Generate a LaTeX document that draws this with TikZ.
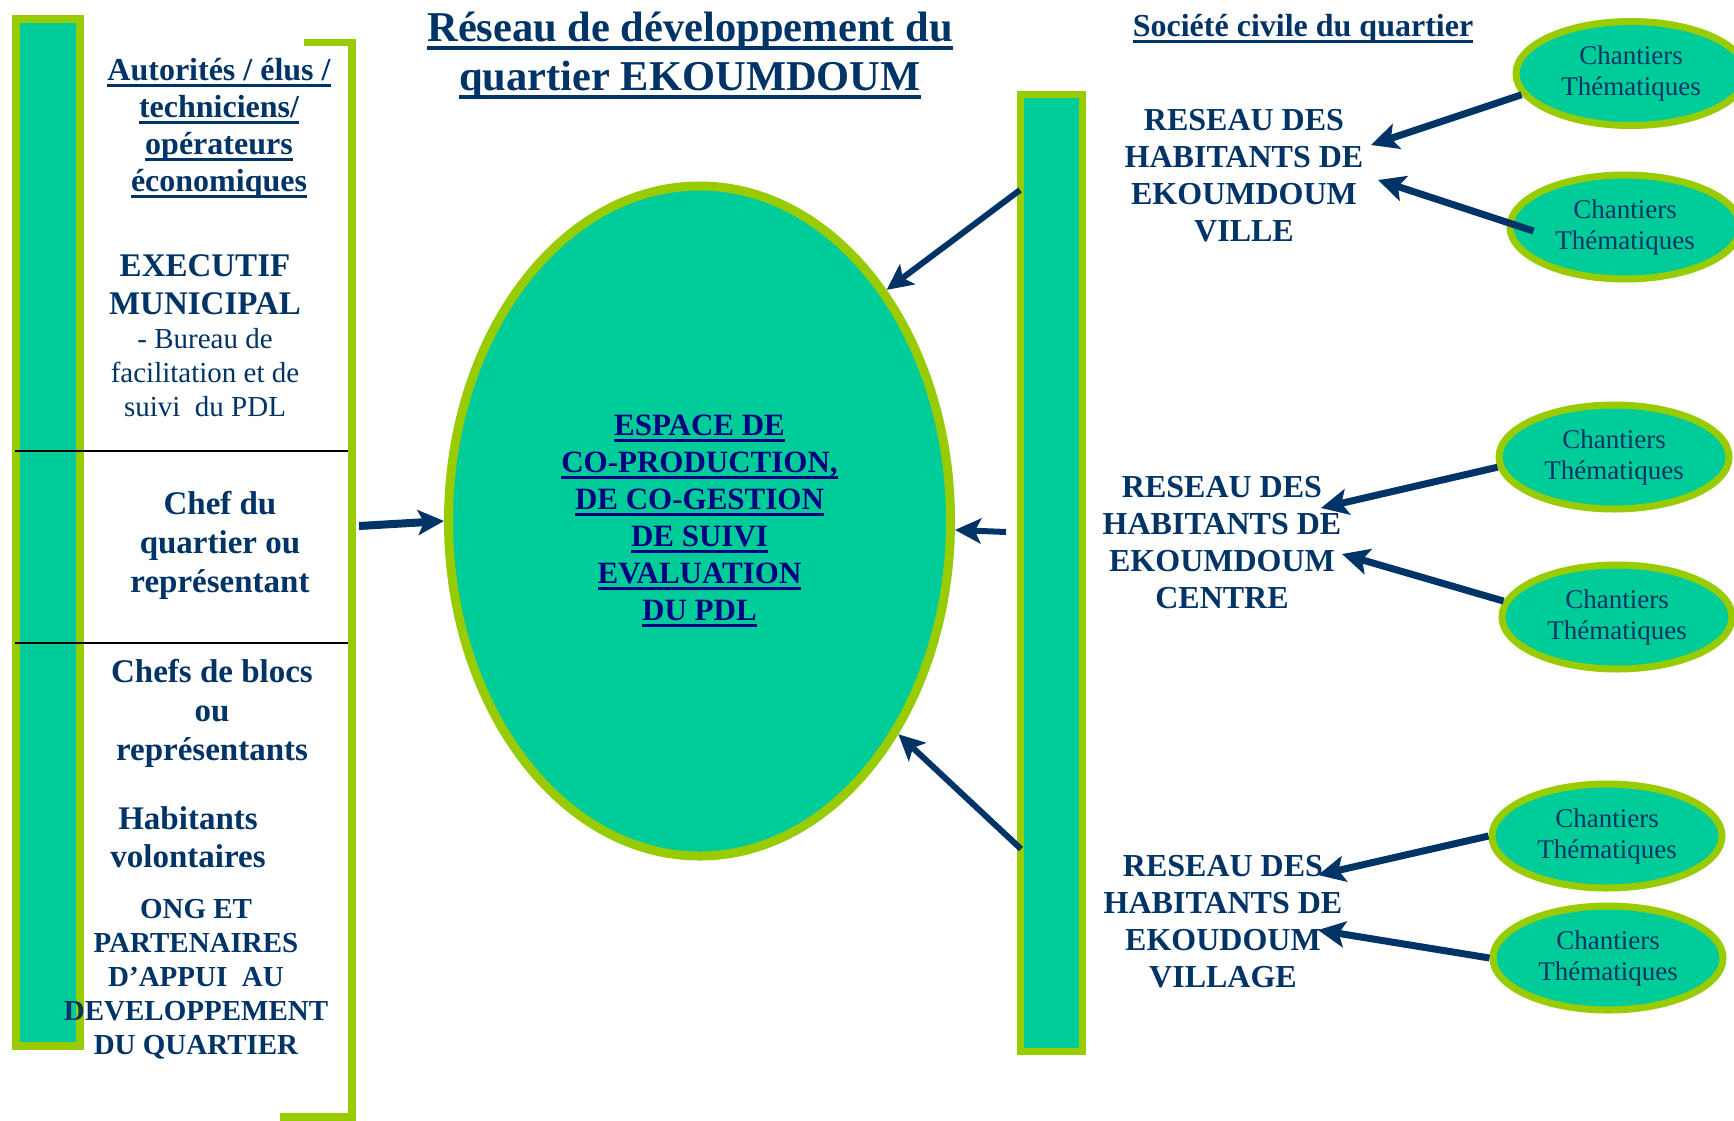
\documentclass[tikz,border=0pt]{standalone}
\usepackage{fontspec}
\setmainfont{Liberation Serif}
\usetikzlibrary{arrows.meta,shapes.geometric}
\definecolor{mynavy}{RGB}{0,51,102}
\definecolor{mydeep}{RGB}{0,0,128}
\definecolor{myteal}{RGB}{0,204,153}
\definecolor{mygreen}{RGB}{153,204,0}
\newcommand\ulx[1]{\leavevmode\setbox0\hbox{#1}\rlap{\copy0}\rule[-0.2em]{\wd0}{0.09em}}
\tikzset{
  lbl/.style={text=mynavy, align=center, inner sep=0pt},
  bar/.style={draw=mygreen, fill=myteal, line width=4pt},
  arr/.style={draw=mynavy, line width=3pt, -{Stealth[length=13pt,width=12.5pt,inset=3pt]}},
  carr/.style={draw=mynavy, line width=3.5pt, -{Stealth[length=13.5pt,width=13pt,inset=3pt]}},
  chant/.style={ellipse, draw=mygreen, fill=myteal, line width=3.5pt, minimum width=115pt,
    minimum height=52pt, inner sep=0pt, text=mynavy, align=center,
    font=\fontsize{13.5pt}{15.5pt}\selectfont},
}
\begin{document}
\begin{tikzpicture}[x=0.5pt,y=-0.5pt]
\clip (0,0) rectangle (1734,1120);
\fill[white] (0,0) rectangle (1734,1120);
% left bar and bracket
\draw[bar] (16,19) rectangle (80,1046);
\draw[mygreen, line width=3.75pt] (304,42.5) -- (352,42.5) -- (352,1117) -- (280,1117);
\draw[black, line width=1pt] (15,450.5) -- (348,450.5);
\draw[black, line width=1pt] (15,642.5) -- (348,642.5);
% right bar
\draw[bar, line width=3.5pt] (1020,94.5) rectangle (1082,1051.5);
% central ellipse
\node[ellipse, draw=mygreen, fill=myteal, line width=4.5pt, minimum width=251pt, minimum height=335pt,
  inner sep=0pt, text=mydeep, align=center, font=\bfseries\fontsize{15.5pt}{18.5pt}\selectfont]
  (E) at (699.5,521) {\ulx{ESPACE DE}\\\ulx{CO-PRODUCTION,}\\\ulx{DE CO-GESTION}\\\ulx{DE SUIVI}\\\ulx{EVALUATION}\\\ulx{DU PDL}};
% chantiers
\node[chant] (C1) at (1631,73.5) {Chantiers\\Thématiques};
\node[chant] (C2) at (1625,227) {Chantiers\\Thématiques};
\node[chant] (C3) at (1614,457) {Chantiers\\Thématiques};
\node[chant] (C4) at (1617,617) {Chantiers\\Thématiques};
\node[chant] (C5) at (1607,836) {Chantiers\\Thématiques};
\node[chant] (C6) at (1608,958) {Chantiers\\Thématiques};
% titles
\node[lbl, font=\bfseries\fontsize{21.25pt}{24.5pt}\selectfont] (title) at (690,56)
  {\ulx{Réseau de développement du}\\\ulx{quartier EKOUMDOUM}};
\node[lbl, font=\bfseries\fontsize{16pt}{18.5pt}\selectfont] (soc) at (1303,29)
  {\ulx{Société civile du quartier}};
% left texts
\node[lbl, font=\bfseries\fontsize{16pt}{18.5pt}\selectfont] (autor) at (219,128)
  {\ulx{Autorités / élus /}\\\ulx{techniciens/}\\\ulx{opérateurs}\\\ulx{économiques}};
\node[lbl, font=\bfseries\fontsize{16.5pt}{19pt}\selectfont] (exec) at (205,285) {EXECUTIF\\MUNICIPAL};
\node[lbl, font=\fontsize{14.5pt}{17pt}\selectfont] (bureau) at (205,373) {- Bureau de\\facilitation et de\\suivi\ \ du PDL};
\node[lbl, font=\bfseries\fontsize{16.5pt}{19.5pt}\selectfont] (chef) at (220,545) {Chef du\\quartier ou\\représentant};
\node[lbl, font=\bfseries\fontsize{16.5pt}{19.5pt}\selectfont] (blocs) at (212,713) {Chefs de blocs\\ou\\représentants};
\node[lbl, font=\bfseries\fontsize{16.5pt}{19pt}\selectfont] (habit) at (188,837) {Habitants\\volontaires};
\node[lbl, font=\bfseries\fontsize{14.5pt}{17pt}\selectfont] (ong) at (196,979)
  {ONG ET\\PARTENAIRES\\D’APPUI\ \ AU\\DEVELOPPEMENT\\DU QUARTIER};
% network texts
\node[lbl, font=\bfseries\fontsize{16pt}{18.5pt}\selectfont] (ville) at (1244,176) {RESEAU DES\\HABITANTS DE\\EKOUMDOUM\\VILLE};
\node[lbl, font=\bfseries\fontsize{16pt}{18.5pt}\selectfont] (centre) at (1222,543) {RESEAU DES\\HABITANTS DE\\EKOUMDOUM\\CENTRE};
\node[lbl, font=\bfseries\fontsize{16pt}{18.5pt}\selectfont] (village) at (1223,922) {RESEAU DES\\HABITANTS DE\\EKOUDOUM\\VILLAGE};
% connector ends
\coordinate (la) at (359,526);
\coordinate (r1) at (1020,190);
\coordinate (r2) at (1006,532);
\coordinate (r3) at (1021,849);
\coordinate (v1) at (1371,145);
\coordinate (v2) at (1378,180);
\coordinate (ce1) at (1321,508);
\coordinate (ce2) at (1342,554);
\coordinate (vg1) at (1318,875);
\coordinate (vg2) at (1318,930);
% arrows to central ellipse
\draw[arr, line width=4pt] (la) -- (E.west);
\draw[arr] (r1) -- (E.51);
\draw[arr] (r2) -- (E.-2);
\draw[arr] (r3) -- (E.-47);
% arrows from chantiers
\draw[carr] (C1.191) -- (v1);
\draw[carr] ([xshift=13.5pt,yshift=-2pt]C2.west) -- (v2);
\draw[carr] (C3.185) -- (ce1);
\draw[carr] (C4.172) -- (ce2);
\draw[carr] (C5.west) -- (vg1);
\draw[carr] (C6.west) -- (vg2);
\end{tikzpicture}
\end{document}
